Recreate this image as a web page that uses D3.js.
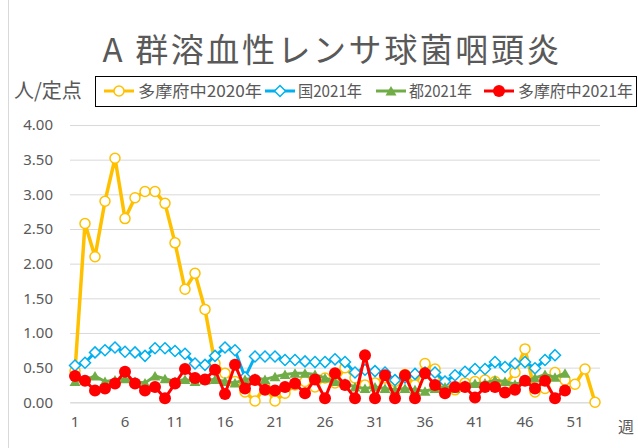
<!DOCTYPE html>
<html>
<head>
<meta charset="utf-8">
<script src="https://cdn.jsdelivr.net/npm/d3@7"></script>
<style>
  body { margin: 0; background: #fff; }
  svg { display: block; font-family: "Noto Sans CJK JP", "Noto Sans", sans-serif; }
</style>
</head>
<body>
<svg id="chart" width="638" height="448"></svg>
<script>
// weeks 1..53
const weeks = d3.range( 1, 54 );
const weekTicks = [ 1, 6, 11, 16, 21, 26, 31, 36, 41, 46, 51 ];
const yTicks = [ 0, 0.5, 1, 1.5, 2, 2.5, 3, 3.5, 4 ];

// 多摩府中2020年
const tama2020 = [
	0.45, 2.58, 2.10, 2.90, 3.52, 2.65, 2.95, 3.04, 3.04, 2.87,
	2.30, 1.63, 1.86, 1.34, 0.56, 0.42, 0.30, 0.15, 0.02, 0.22,
	0.02, 0.13, 0.25, 0.30, 0.22, 0.35, 0.28, 0.50, 0.35, 0.25,
	0.28, 0.35, 0.30, 0.40, 0.25, 0.56, 0.48, 0.20, 0.18, 0.28,
	0.30, 0.32, 0.30, 0.25, 0.43, 0.77, 0.15, 0.20, 0.43, 0.32,
	0.26, 0.48, 0.00,
];
// 国2021年
const kuni2021 = [
	0.53, 0.57, 0.72, 0.75, 0.79, 0.73, 0.72, 0.67, 0.78, 0.78,
	0.74, 0.70, 0.56, 0.54, 0.67, 0.79, 0.75, 0.36, 0.66, 0.66,
	0.66, 0.61, 0.61, 0.59, 0.58, 0.58, 0.62, 0.58, 0.43, 0.47,
	0.45, 0.43, 0.32, 0.36, 0.41, 0.43, 0.43, 0.30, 0.39, 0.44,
	0.48, 0.48, 0.58, 0.51, 0.56, 0.58, 0.49, 0.61, 0.68,
];
// 都2021年
const to2021 = [
	0.30, 0.32, 0.38, 0.30, 0.32, 0.34, 0.30, 0.28, 0.38, 0.34,
	0.30, 0.33, 0.30, 0.32, 0.33, 0.30, 0.28, 0.33, 0.35, 0.33,
	0.37, 0.40, 0.42, 0.42, 0.40, 0.35, 0.30, 0.28, 0.22, 0.20,
	0.22, 0.20, 0.18, 0.20, 0.18, 0.16, 0.20, 0.22, 0.20, 0.25,
	0.27, 0.28, 0.32, 0.30, 0.26, 0.30, 0.35, 0.40, 0.36, 0.42,
];
// 多摩府中2021年
const tama2021 = [
	0.38, 0.31, 0.17, 0.20, 0.27, 0.44, 0.27, 0.17, 0.22, 0.06,
	0.27, 0.48, 0.35, 0.33, 0.47, 0.12, 0.54, 0.20, 0.32, 0.18,
	0.17, 0.22, 0.27, 0.13, 0.33, 0.06, 0.42, 0.25, 0.06, 0.68,
	0.06, 0.39, 0.06, 0.39, 0.06, 0.42, 0.25, 0.13, 0.22, 0.22,
	0.07, 0.22, 0.22, 0.14, 0.18, 0.31, 0.20, 0.31, 0.06, 0.17,
];

const series = [
	{ name: '多摩府中2020年', values: tama2020, color: '#FFC000', marker: 'circle-open', legendX: 104, textX: 138, textW: 124 },
	{ name: '国2021年', values: kuni2021, color: '#00B0F0', marker: 'diamond', legendX: 265, textX: 298, textW: 64 },
	{ name: '都2021年', values: to2021, color: '#70AD47', marker: 'triangle', legendX: 376, textX: 409, textW: 63 },
	{ name: '多摩府中2021年', values: tama2021, color: '#FF0000', marker: 'circle', legendX: 484, textX: 518, textW: 115 },
];

const svg = d3.select( '#chart' );
const textColor = '#595959';
const gridColor = '#d9d9d9';

// chart border (only the left edge is visible)
svg.append( 'rect' )
	.attr( 'x', 8.5 ).attr( 'y', -10 )
	.attr( 'width', 700 ).attr( 'height', 500 )
	.attr( 'fill', 'none' )
	.attr( 'stroke', gridColor );

const x = d3.scaleBand()
	.domain( weeks )
	.range( [ 70, 600 ] );

const y = d3.scaleLinear()
	.domain( [ 0, 4 ] )
	.range( [ 402.3, 125 ] );

const cx = d => x( d ) + x.bandwidth() / 2;

// title
svg.append( 'text' )
	.attr( 'x', 331 ).attr( 'y', 62 )
	.attr( 'text-anchor', 'middle' )
	.attr( 'fill', textColor )
	.style( 'font-size', '33px' )
	.attr( 'textLength', 457 )
	.text( 'A 群溶血性レンサ球菌咽頭炎' );

// unit label
svg.append( 'text' )
	.attr( 'x', 14 ).attr( 'y', 98 )
	.attr( 'fill', textColor )
	.style( 'font-size', '20px' )
	.text( '人/定点' );

// y grid + labels
const yAxis = d3.axisLeft( y )
	.tickValues( yTicks )
	.tickSize( -530 )
	.tickPadding( 17 )
	.tickFormat( d3.format( '.2f' ) );

const yg = svg.append( 'g' )
	.attr( 'transform', 'translate(70,0)' )
	.call( yAxis );
yg.select( '.domain' ).remove();
yg.selectAll( 'line' ).attr( 'stroke', gridColor );
yg.selectAll( 'text' )
	.attr( 'fill', textColor )
	.style( 'font-size', '15px' )
	.style( 'font-family', '"Noto Sans", sans-serif' );

// x labels
const xAxis = d3.axisBottom( x )
	.tickValues( weekTicks )
	.tickSize( 0 )
	.tickPadding( 14 );

const xg = svg.append( 'g' )
	.attr( 'transform', `translate(0,${ y( 0 ) })` )
	.call( xAxis );
xg.select( '.domain' ).attr( 'stroke', gridColor );
xg.selectAll( 'text' )
	.attr( 'fill', textColor )
	.style( 'font-size', '15px' )
	.style( 'font-family', '"Noto Sans", sans-serif' );

svg.append( 'text' )
	.attr( 'x', 626 ).attr( 'y', 433 )
	.attr( 'text-anchor', 'middle' )
	.attr( 'fill', textColor )
	.style( 'font-size', '16px' )
	.text( '週' );

// markers
function drawMarker( sel, type, color ) {
	if ( type === 'circle-open' ) {
		sel.append( 'circle' ).attr( 'r', 5 )
			.attr( 'fill', '#fff' ).attr( 'stroke', color ).attr( 'stroke-width', 1.5 );
	} else if ( type === 'circle' ) {
		sel.append( 'circle' ).attr( 'r', 6 ).attr( 'fill', color );
	} else if ( type === 'diamond' ) {
		sel.append( 'path' ).attr( 'd', 'M0,-5.5L5.5,0L0,5.5L-5.5,0Z' )
			.attr( 'fill', '#fff' ).attr( 'stroke', color ).attr( 'stroke-width', 1.5 );
	} else if ( type === 'triangle' ) {
		sel.append( 'path' ).attr( 'd', 'M0,-5L5.5,4.5L-5.5,4.5Z' ).attr( 'fill', color );
	}
}

const line = d3.line()
	.x( ( d, i ) => cx( weeks[ i ] ) )
	.y( d => y( d ) );

series.forEach( s => {
	const g = svg.append( 'g' );
	g.append( 'path' )
		.attr( 'd', line( s.values ) )
		.attr( 'fill', 'none' )
		.attr( 'stroke', s.color )
		.attr( 'stroke-width', s.marker === 'circle-open' ? 3.5 : 3 )
		.attr( 'stroke-linejoin', 'round' );

	g.selectAll( 'g' )
		.data( s.values )
		.join( 'g' )
		.attr( 'transform', ( d, i ) => `translate(${ cx( weeks[ i ] ) },${ y( d ) })` )
		.each( function() {
			drawMarker( d3.select( this ), s.marker, s.color );
		} );
} );

// legend
const legend = svg.append( 'g' );
legend.append( 'rect' )
	.attr( 'x', 95.5 ).attr( 'y', 76.5 )
	.attr( 'width', 541 ).attr( 'height', 30 )
	.attr( 'fill', '#fff' )
	.attr( 'stroke', '#000' );

series.forEach( s => {
	const item = legend.append( 'g' );
	item.append( 'line' )
		.attr( 'x1', s.legendX ).attr( 'x2', s.legendX + 30 )
		.attr( 'y1', 91 ).attr( 'y2', 91 )
		.attr( 'stroke', s.color )
		.attr( 'stroke-width', 3 );
	const m = item.append( 'g' )
		.attr( 'transform', `translate(${ s.legendX + 15 },91)` );
	drawMarker( m, s.marker, s.color );
	item.append( 'text' )
		.attr( 'x', s.textX ).attr( 'y', 97 )
		.attr( 'fill', textColor )
		.style( 'font-size', '16px' )
		.attr( 'textLength', s.textW )
		.attr( 'lengthAdjust', 'spacingAndGlyphs' )
		.text( s.name );
} );
</script>
</body>
</html>
